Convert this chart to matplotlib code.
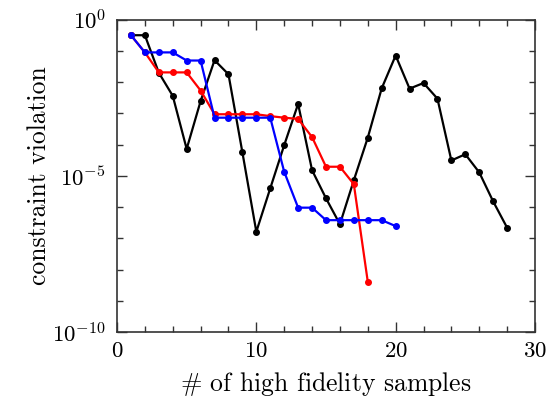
import numpy as np
import matplotlib
matplotlib.use("Agg")
import matplotlib.pyplot as plt
from matplotlib.ticker import MultipleLocator, FixedLocator, NullFormatter

plt.rcParams['font.family'] = 'cmr10'
plt.rcParams['mathtext.fontset'] = 'cm'
plt.rcParams['axes.formatter.use_mathtext'] = True

# log10 of the constraint violation
x_black = list(range(1, 29))
log_black = [-0.5, -0.5, -1.7, -2.44, -4.14, -2.61, -1.3, -1.75, -4.25, -6.79,
             -5.4, -4.02, -2.7, -4.82, -5.72, -6.55, -5.14, -3.78, -2.2, -1.15,
             -2.21, -2.03, -2.53, -4.51, -4.31, -4.89, -5.82, -6.66]

x_red = list(range(1, 19))
log_red = [-0.5, -1.05, -1.69, -1.69, -1.69, -2.27, -3.03, -3.03, -3.03, -3.03,
           -3.09, -3.14, -3.18, -3.76, -4.71, -4.71, -5.27, -8.39]

x_blue = list(range(1, 21))
log_blue = [-0.5, -1.05, -1.05, -1.05, -1.31, -1.31, -3.14, -3.14, -3.14, -3.14,
            -3.14, -4.87, -6.02, -6.02, -6.42, -6.42, -6.42, -6.42, -6.42, -6.61]

fig = plt.figure(figsize=(5.58, 4.0), dpi=100)
ax = fig.add_axes([0.2097, 0.17, 0.749, 0.781])

ax.plot(x_black, 10.0 ** np.array(log_black), color='black', marker='o', ms=4, lw=1.6)
ax.plot(x_red, 10.0 ** np.array(log_red), color='red', marker='o', ms=4, lw=1.6)
ax.plot(x_blue, 10.0 ** np.array(log_blue), color='blue', marker='o', ms=4, lw=1.6)

ax.set_yscale('log')
ax.set_xlim(0, 30)
ax.set_ylim(1e-10, 1e0)

ax.xaxis.set_major_locator(MultipleLocator(10))
ax.xaxis.set_minor_locator(MultipleLocator(2))
ax.yaxis.set_major_locator(FixedLocator([1e-10, 1e-5, 1e0]))
ax.yaxis.set_minor_locator(FixedLocator([10.0 ** k for k in range(-9, 0)]))
ax.yaxis.set_minor_formatter(NullFormatter())

ax.tick_params(which='both', direction='in', top=True, right=True, labelsize=16.5, color='#333333')
ax.tick_params(which='major', length=7, width=1)
ax.tick_params(which='minor', length=4, width=1)
ax.tick_params(axis='x', pad=7)
ax.tick_params(axis='y', pad=8)
for s in ax.spines.values():
    s.set_color('#333333')
    s.set_linewidth(1.2)

ax.set_xlabel(r'$\#$ of high fidelity samples', fontsize=18.5, labelpad=6)
ax.set_ylabel('constraint violation', fontsize=18.5, labelpad=1)

fig.savefig('out.png', dpi=100)
